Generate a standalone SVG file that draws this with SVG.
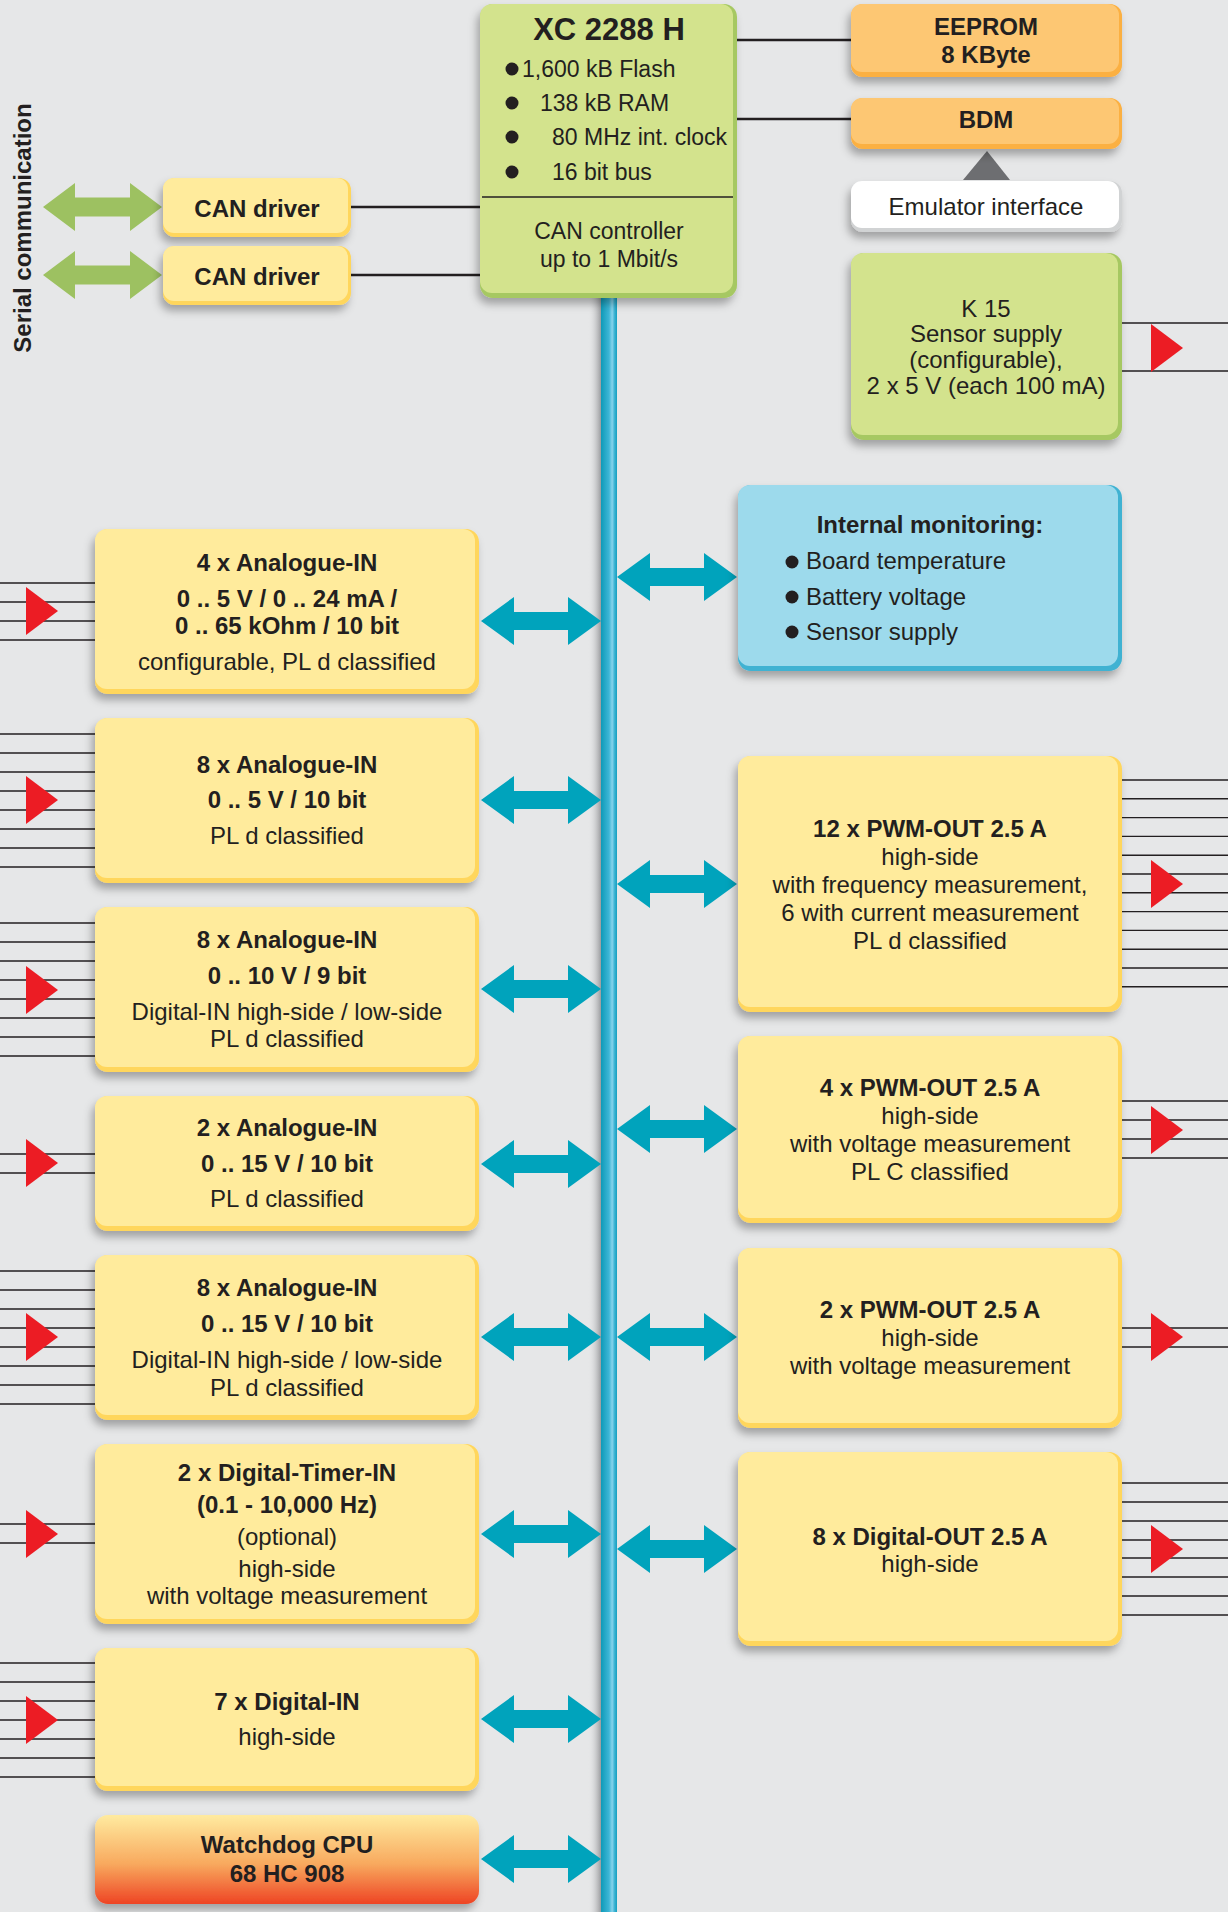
<svg xmlns="http://www.w3.org/2000/svg" width="1228" height="1912" viewBox="0 0 1228 1912">
<defs>
<style>
.t{font-family:"Liberation Sans",Arial,sans-serif;font-size:24px;fill:#231F20;text-anchor:middle}
.s{text-anchor:start}
.b{font-weight:bold}
.ln{stroke:#231F20;stroke-width:1.4;fill:none}
.cn{stroke:#231F20;stroke-width:2.6;fill:none}
.y1{fill:#FFD65C}.y2{fill:#FFEB9C}
.g1{fill:#A6C862}.g2{fill:#D3E38D}
.o1{fill:#FBB042}.o2{fill:#FDC773}
.b1{fill:#3FB2D2}.b2{fill:#9DDAEC}
.w1{fill:#D1D3D4}.w2{fill:#FFFFFF}
.ta{fill:#00A3BC}
.ga{fill:#9DC161}
.rt{fill:#EC1C24}
.sh{filter:url(#ds)}
</style>
<filter id="ds" x="-10%" y="-20%" width="120%" height="150%">
<feDropShadow dx="-3" dy="6" stdDeviation="4" flood-color="#000" flood-opacity="0.3"/>
</filter>
<linearGradient id="bus" x1="0" y1="0" x2="1" y2="0">
<stop offset="0" stop-color="#0E9AB8"/>
<stop offset="0.5" stop-color="#3DB6D6"/>
<stop offset="0.7" stop-color="#86D3EC"/>
<stop offset="0.85" stop-color="#3AB3D3"/>
<stop offset="1" stop-color="#159FBF"/>
</linearGradient>
<linearGradient id="bsh" x1="0" y1="0" x2="1" y2="0">
<stop offset="0" stop-color="#E6E7E8" stop-opacity="0"/>
<stop offset="1" stop-color="#9A9B9E"/>
</linearGradient>
<linearGradient id="wd" x1="0" y1="0" x2="0" y2="1">
<stop offset="0" stop-color="#FFEBA0"/>
<stop offset="0.55" stop-color="#F8A95E"/>
<stop offset="1" stop-color="#EE4424"/>
</linearGradient>
<path id="tarr" d="M0,0 L33,-24 L33,-9 L87,-9 L87,-24 L120,0 L87,24 L87,9 L33,9 L33,24 Z"/>
<path id="garr" d="M0,0 L32,-24 L32,-9.5 L87,-9.5 L87,-24 L119,0 L87,24 L87,9.5 L32,9.5 L32,24 Z"/>
<path id="rtri" d="M0,-24 L32,0 L0,24 Z"/>
</defs>

<rect x="0" y="0" width="1228" height="1912" fill="#E6E7E8"/>

<g id="connectors">
<rect x="588" y="298" width="13" height="1614" fill="url(#bsh)"/>
<rect x="601" y="296" width="16" height="1616" fill="url(#bus)"/>
<line class="cn" x1="351" y1="207" x2="482" y2="207"/>
<line class="cn" x1="351" y1="275" x2="482" y2="275"/>
<line class="cn" x1="735" y1="40" x2="853" y2="40"/>
<line class="cn" x1="735" y1="119" x2="853" y2="119"/>
<path d="M987,151 L1010,180 L963,180 Z" fill="#6D6E71"/>
<use href="#garr" class="ga" x="43" y="207"/>
<use href="#garr" class="ga" x="43" y="275"/>
<g class="ta">
<use href="#tarr" x="481" y="621"/>
<use href="#tarr" x="481" y="800"/>
<use href="#tarr" x="481" y="989"/>
<use href="#tarr" x="481" y="1164"/>
<use href="#tarr" x="481" y="1337"/>
<use href="#tarr" x="481" y="1534"/>
<use href="#tarr" x="481" y="1719"/>
<use href="#tarr" x="481" y="1859"/>
<use href="#tarr" x="617" y="577"/>
<use href="#tarr" x="617" y="884"/>
<use href="#tarr" x="617" y="1129"/>
<use href="#tarr" x="617" y="1337"/>
<use href="#tarr" x="617" y="1549"/>
</g>
<g class="ln">
<path d="M0,583H95M0,602H95M0,621H95M0,640H95"/>
<path d="M0,734H95M0,753H95M0,772H95M0,791H95M0,810H95M0,829H95M0,848H95M0,867H95"/>
<path d="M0,923H95M0,942H95M0,961H95M0,980H95M0,999H95M0,1018H95M0,1037H95M0,1056H95"/>
<path d="M0,1154H95M0,1173H95"/>
<path d="M0,1271H95M0,1290H95M0,1309H95M0,1328H95M0,1347H95M0,1366H95M0,1385H95M0,1404H95"/>
<path d="M0,1524H95M0,1543H95"/>
<path d="M0,1663H95M0,1682H95M0,1701H95M0,1720H95M0,1739H95M0,1758H95M0,1777H95"/>
<path d="M1122,323H1228M1122,371H1228"/>
<path d="M1122,780H1228M1122,798.8H1228M1122,817.6H1228M1122,836.4H1228M1122,855.2H1228M1122,874H1228M1122,892.8H1228M1122,911.6H1228M1122,930.4H1228M1122,949.2H1228M1122,968H1228M1122,986.8H1228"/>
<path d="M1122,1101H1228M1122,1120H1228M1122,1139H1228M1122,1158H1228"/>
<path d="M1122,1328H1228M1122,1347H1228"/>
<path d="M1122,1483H1228M1122,1502H1228M1122,1521H1228M1122,1540H1228M1122,1558H1228M1122,1577H1228M1122,1596H1228M1122,1615H1228"/>
</g>
<g class="rt">
<use href="#rtri" x="26" y="611"/>
<use href="#rtri" x="26" y="800"/>
<use href="#rtri" x="26" y="990"/>
<use href="#rtri" x="26" y="1163"/>
<use href="#rtri" x="26" y="1337"/>
<use href="#rtri" x="26" y="1534"/>
<use href="#rtri" x="26" y="1720"/>
<use href="#rtri" x="1151" y="348"/>
<use href="#rtri" x="1151" y="884"/>
<use href="#rtri" x="1151" y="1130"/>
<use href="#rtri" x="1151" y="1337"/>
<use href="#rtri" x="1151" y="1549"/>
</g>
</g>

<text class="t b" transform="translate(31,228) rotate(-90)">Serial communication</text>

<g id="xc2288">
<rect class="g1 sh" x="480" y="4" width="257" height="294" rx="13"/>
<rect class="g2" x="480" y="4" width="253" height="289" rx="12"/>
<line x1="482" y1="197" x2="733" y2="197" stroke="#231F20" stroke-width="1.6"/>
<text class="t b" x="609" y="40" style="font-size:31px">XC 2288 H</text>
<g fill="#231F20"><circle cx="512" cy="69" r="6.5"/><circle cx="512" cy="103" r="6.5"/><circle cx="512" cy="137" r="6.5"/><circle cx="512" cy="172" r="6.5"/></g>
<text class="t s" x="522" y="77" style="font-size:23px">1,600 kB Flash</text>
<text class="t s" x="540" y="111" style="font-size:23px">138 kB RAM</text>
<text class="t s" x="552" y="145" style="font-size:23px">80 MHz int. clock</text>
<text class="t s" x="552" y="180" style="font-size:23px">16 bit bus</text>
<text class="t" x="609" y="239" style="font-size:23px">CAN controller</text>
<text class="t" x="609" y="267" style="font-size:23px">up to 1 Mbit/s</text>
</g>

<g id="can1">
<rect class="y1 sh" x="163" y="178" width="188" height="59" rx="12"/>
<rect class="y2" x="163" y="178" width="185" height="55" rx="11"/>
<text class="t b" x="257" y="217">CAN driver</text>
</g>
<g id="can2">
<rect class="y1 sh" x="163" y="246" width="188" height="59" rx="12"/>
<rect class="y2" x="163" y="246" width="185" height="55" rx="11"/>
<text class="t b" x="257" y="285">CAN driver</text>
</g>

<g id="eeprom">
<rect class="o1 sh" x="851" y="4" width="271" height="73" rx="12"/>
<rect class="o2" x="851" y="4" width="268" height="68" rx="11"/>
<text class="t b" x="986" y="35">EEPROM</text>
<text class="t b" x="986" y="63">8 KByte</text>
</g>
<g id="bdm">
<rect class="o1 sh" x="851" y="98" width="271" height="51" rx="12"/>
<rect class="o2" x="851" y="98" width="268" height="46" rx="11"/>
<text class="t b" x="986" y="128">BDM</text>
</g>
<g id="emulator">
<rect class="w1 sh" x="851" y="181" width="271" height="51" rx="12"/>
<rect class="w2" x="851" y="181" width="268" height="47" rx="11"/>
<text class="t" x="986" y="215">Emulator interface</text>
</g>
<g id="k15">
<rect class="g1 sh" x="851" y="253" width="271" height="187" rx="13"/>
<rect class="g2" x="851" y="253" width="267" height="182" rx="12"/>
<text class="t" x="986" y="317">K 15</text>
<text class="t" x="986" y="342">Sensor supply</text>
<text class="t" x="986" y="368">(configurable),</text>
<text class="t" x="986" y="394">2 x 5 V (each 100 mA)</text>
</g>

<g id="ain1">
<rect class="y1 sh" x="95" y="529" width="384" height="165" rx="13"/>
<rect class="y2" x="95" y="529" width="380" height="160" rx="12"/>
<text class="t b" x="287" y="571">4 x Analogue-IN</text>
<text class="t b" x="287" y="607">0 .. 5 V / 0 .. 24 mA /</text>
<text class="t b" x="287" y="634">0 .. 65 kOhm / 10 bit</text>
<text class="t" x="287" y="670">configurable, PL d classified</text>
</g>
<g id="ain2">
<rect class="y1 sh" x="95" y="718" width="384" height="165" rx="13"/>
<rect class="y2" x="95" y="718" width="380" height="160" rx="12"/>
<text class="t b" x="287" y="773">8 x Analogue-IN</text>
<text class="t b" x="287" y="808">0 .. 5 V / 10 bit</text>
<text class="t" x="287" y="844">PL d classified</text>
</g>
<g id="ain3">
<rect class="y1 sh" x="95" y="907" width="384" height="165" rx="13"/>
<rect class="y2" x="95" y="907" width="380" height="160" rx="12"/>
<text class="t b" x="287" y="948">8 x Analogue-IN</text>
<text class="t b" x="287" y="984">0 .. 10 V / 9 bit</text>
<text class="t" x="287" y="1020">Digital-IN high-side / low-side</text>
<text class="t" x="287" y="1047">PL d classified</text>
</g>
<g id="ain4">
<rect class="y1 sh" x="95" y="1096" width="384" height="135" rx="13"/>
<rect class="y2" x="95" y="1096" width="380" height="130" rx="12"/>
<text class="t b" x="287" y="1136">2 x Analogue-IN</text>
<text class="t b" x="287" y="1172">0 .. 15 V / 10 bit</text>
<text class="t" x="287" y="1207">PL d classified</text>
</g>
<g id="ain5">
<rect class="y1 sh" x="95" y="1255" width="384" height="165" rx="13"/>
<rect class="y2" x="95" y="1255" width="380" height="160" rx="12"/>
<text class="t b" x="287" y="1296">8 x Analogue-IN</text>
<text class="t b" x="287" y="1332">0 .. 15 V / 10 bit</text>
<text class="t" x="287" y="1368">Digital-IN high-side / low-side</text>
<text class="t" x="287" y="1396">PL d classified</text>
</g>
<g id="timer">
<rect class="y1 sh" x="95" y="1444" width="384" height="180" rx="13"/>
<rect class="y2" x="95" y="1444" width="380" height="175" rx="12"/>
<text class="t b" x="287" y="1481">2 x Digital-Timer-IN</text>
<text class="t b" x="287" y="1513">(0.1 - 10,000 Hz)</text>
<text class="t" x="287" y="1545">(optional)</text>
<text class="t" x="287" y="1577">high-side</text>
<text class="t" x="287" y="1604">with voltage measurement</text>
</g>
<g id="din">
<rect class="y1 sh" x="95" y="1648" width="384" height="143" rx="13"/>
<rect class="y2" x="95" y="1648" width="380" height="138" rx="12"/>
<text class="t b" x="287" y="1710">7 x Digital-IN</text>
<text class="t" x="287" y="1745">high-side</text>
</g>
<g id="watchdog">
<rect class="sh" x="95" y="1815" width="384" height="89" rx="13" fill="url(#wd)"/>
<text class="t b" x="287" y="1853">Watchdog CPU</text>
<text class="t b" x="287" y="1882">68 HC 908</text>
</g>

<g id="monitor">
<rect class="b1 sh" x="738" y="485" width="384" height="186" rx="13"/>
<rect class="b2" x="738" y="485" width="380" height="181" rx="12"/>
<text class="t b" x="930" y="533">Internal monitoring:</text>
<g fill="#231F20"><circle cx="792" cy="562" r="6.5"/><circle cx="792" cy="597" r="6.5"/><circle cx="792" cy="632" r="6.5"/></g>
<text class="t s" x="806" y="569">Board temperature</text>
<text class="t s" x="806" y="605">Battery voltage</text>
<text class="t s" x="806" y="640">Sensor supply</text>
</g>
<g id="pwm12">
<rect class="y1 sh" x="738" y="756" width="384" height="256" rx="13"/>
<rect class="y2" x="738" y="756" width="380" height="251" rx="12"/>
<text class="t b" x="930" y="837">12 x PWM-OUT 2.5 A</text>
<text class="t" x="930" y="865">high-side</text>
<text class="t" x="930" y="893">with frequency measurement,</text>
<text class="t" x="930" y="921">6 with current measurement</text>
<text class="t" x="930" y="949">PL d classified</text>
</g>
<g id="pwm4">
<rect class="y1 sh" x="738" y="1036" width="384" height="187" rx="13"/>
<rect class="y2" x="738" y="1036" width="380" height="182" rx="12"/>
<text class="t b" x="930" y="1096">4 x PWM-OUT 2.5 A</text>
<text class="t" x="930" y="1124">high-side</text>
<text class="t" x="930" y="1152">with voltage measurement</text>
<text class="t" x="930" y="1180">PL C classified</text>
</g>
<g id="pwm2">
<rect class="y1 sh" x="738" y="1248" width="384" height="180" rx="13"/>
<rect class="y2" x="738" y="1248" width="380" height="175" rx="12"/>
<text class="t b" x="930" y="1318">2 x PWM-OUT 2.5 A</text>
<text class="t" x="930" y="1346">high-side</text>
<text class="t" x="930" y="1374">with voltage measurement</text>
</g>
<g id="dout">
<rect class="y1 sh" x="738" y="1452" width="384" height="194" rx="13"/>
<rect class="y2" x="738" y="1452" width="380" height="189" rx="12"/>
<text class="t b" x="930" y="1545">8 x Digital-OUT 2.5 A</text>
<text class="t" x="930" y="1572">high-side</text>
</g>
</svg>
